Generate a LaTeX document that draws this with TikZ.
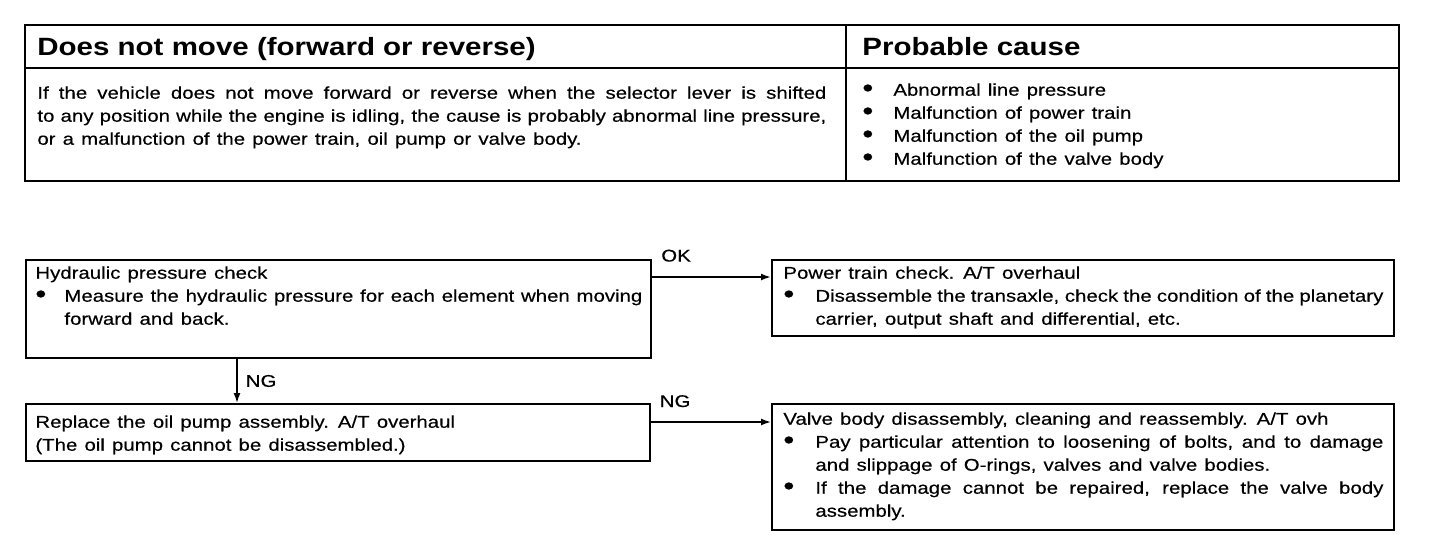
\documentclass[tikz,border=0pt]{standalone}
\usepackage{fontspec}
\setmainfont{Liberation Sans}[FakeStretch=1.2,FakeBold=0.4]
\newfontfamily\headfont{Liberation Sans}[FakeStretch=1.18]
\usetikzlibrary{arrows.meta}
\setlength\parindent{0pt}
% bullet and hanging item for the boxed lists
\newcommand{\dotmark}{\raisebox{-0.1ex}{\fontsize{13}{13}\selectfont\textbullet}}
\newcommand{\bul}[1][16pt]{\hangindent=#1\hangafter=1\makebox[#1][l]{\dotmark}}
\newcommand{\itm}[1][16pt]{\par\bul[#1]}
\newcommand{\wide}{\spaceskip=0.42em plus 0.3em minus 0.3em\relax}

\begin{document}
\begin{tikzpicture}[x=0.5pt,y=-0.5pt,
  every node/.style={inner sep=0pt},
  frame/.style={draw, line width=1.4pt},
  box/.style={draw, line width=1pt, anchor=north west},
  body/.style={anchor=north west, align=justify, font=\fontsize{8.5}{11.5}\selectfont\wide},
  head/.style={anchor=base west, font=\headfont\fontsize{12.5}{15}\selectfont\bfseries},
  flow/.style={-{Latex[length=5pt,width=3.5pt]}},
  lbl/.style={font=\fontsize{8.5}{10}\selectfont}]
\useasboundingbox (0,0) rectangle (1440,546);

% symptom table
\draw[frame] (25,25) rectangle (1399,181);
\draw[frame] (25,68) -- (1399,68);
\draw[frame] (846,25) -- (846,181);
\node[head] (title) at (37,55) {Does not move (forward or reverse)};
\node[head] (causehead) at (862,55) {Probable cause};
\node[body, text width=394.5pt] (desc) at (37,86) {If the vehicle does not move forward or reverse when the selector lever is shifted\linebreak to any position while the engine is idling, the cause is probably abnormal line pressure,\linebreak or a malfunction of the power train, oil pump or valve body.\par};
\node[body, text width=250pt] (causes) at (862,83) {\bul[15.5pt]Abnormal line pressure\itm[15.5pt]Malfunction of power train\itm[15.5pt]Malfunction of the oil pump\itm[15.5pt]Malfunction of the valve body\par};

% flow chart boxes
\node[box, minimum width=312.5pt, minimum height=49pt] (hyd) at (25,259) {};
\node[box, minimum width=311pt, minimum height=38pt] (train) at (771,259) {};
\node[box, minimum width=312pt, minimum height=28.5pt] (pump) at (25,403) {};
\node[box, minimum width=311pt, minimum height=63pt] (valve) at (771,403) {};

\node[body, text width=303.5pt] (hydtxt) at (35,266) {Hydraulic pressure check\itm[14.5pt]Measure the hydraulic pressure for each element when moving\linebreak forward and back.\par};
\node[body, text width=300pt] (traintxt) at (783,266) {Power train check. A/T overhaul\itm Disassemble the transaxle, check the condition of the planetary\linebreak carrier, output shaft and differential, etc.\par};
\node[body, text width=300pt] (pumptxt) at (35,415) {Replace the oil pump assembly. A/T overhaul\par(The oil pump cannot be disassembled.)\par};
\node[body, text width=300pt] (valvetxt) at (783,412) {Valve body disassembly, cleaning and reassembly. A/T ovh\itm Pay particular attention to loosening of bolts, and to damage\linebreak and slippage of O-rings, valves and valve bodies.\itm If the damage cannot be repaired, replace the valve body\linebreak assembly.\par};

% connectors
\draw[flow, line width=1.3pt] ([yshift=-9pt]hyd.north east) -- node[lbl, pos=0, anchor=south west, xshift=4pt, yshift=7pt] (ok) {OK} ([yshift=-9pt]train.north west);
\draw[flow, line width=0.8pt] ([xshift=106pt]hyd.south west) -- node[lbl, right, xshift=4pt] (ngdown) {NG} ([xshift=106pt]pump.north west);
\draw[flow, line width=0.8pt] ([yshift=-9.5pt]pump.north east) -- node[lbl, pos=0, anchor=south west, xshift=4pt, yshift=7pt] (ngright) {NG} ([yshift=-9.5pt]valve.north west);
\end{tikzpicture}
\end{document}
